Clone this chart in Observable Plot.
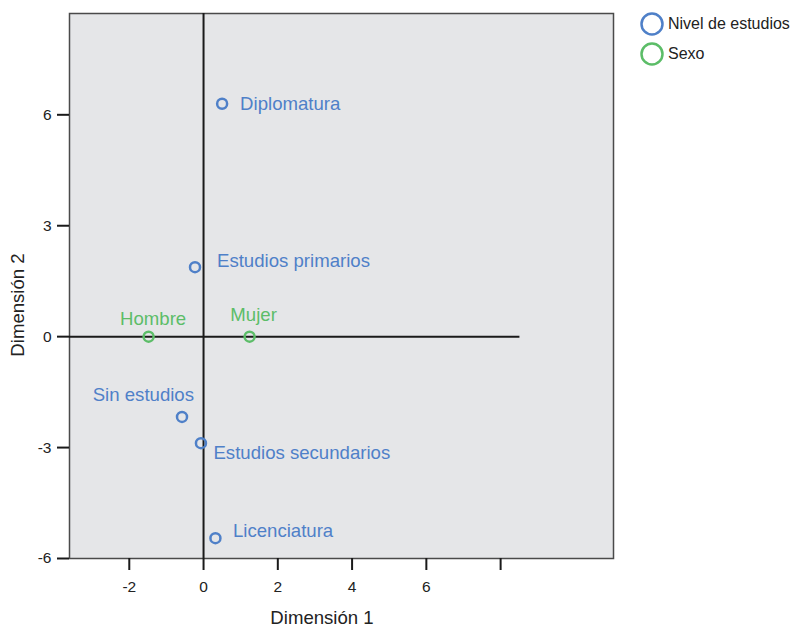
<!DOCTYPE html>
<html>
<head>
<meta charset="utf-8">
<script src="https://cdn.jsdelivr.net/npm/d3@7"></script>
<script src="https://cdn.jsdelivr.net/npm/@observablehq/plot@0.6"></script>
<style>
  html, body { margin: 0; padding: 0; background: #fff; }
  #wrap { position: relative; width: 794px; height: 628px; font-family: "Liberation Sans", Arial, sans-serif; }
  #legend { position: absolute; left: 639px; top: 9px; }
  .item { display: flex; align-items: center; height: 30px; font-size: 16px; color: #222; }
  .item svg { margin-right: 3px; }
</style>
</head>
<body>
<div id="wrap"><div id="legend"></div></div>
<script>
// ---- data ----
const names  = ["Diplomatura", "Estudios primarios", "Hombre", "Mujer", "Sin estudios", "Estudios secundarios", "Licenciatura"];
const dim1   = [0.50, -0.23, -1.48, 1.24, -0.58, -0.07, 0.32];
const dim2   = [6.30, 1.88, 0.00, 0.00, -2.17, -2.88, -5.45];
const groups = ["Nivel de estudios", "Nivel de estudios", "Sexo", "Sexo", "Nivel de estudios", "Nivel de estudios", "Nivel de estudios"];
const seriesNames = ["Nivel de estudios", "Sexo"];
const xTicks = [-2, 0, 2, 4, 6, 8];
const xTickLabels = ["-2", "0", "2", "4", "6", ""];
const yTicks = [-6, -3, 0, 3, 6];
const yTickLabels = ["-6", "-3", "0", "3", "6"];
const xDomain = [-3.61, 11.04];
const yDomain = [-6, 8.74];
const hLineEnd = 8.52;

const colors = ["#4f80c8", "#5cbd68"];
const data = names.map((n, i) => ({name: n, x: dim1[i], y: dim2[i], group: groups[i]}));
const color = d3.scaleOrdinal(seriesNames, colors);

const font = "Liberation Sans, Arial, sans-serif";

const labelMark = (list, opts) => Plot.text(data.filter(d => list.includes(d.name)), {
  x: "x", y: "y", text: "name", fill: d => color(d.group), fontSize: 18.6, ...opts
});

const chart = Plot.plot({
  width: 794,
  height: 628,
  marginLeft: 69,
  marginTop: 13,
  marginRight: 181,
  marginBottom: 70,
  style: {fontFamily: font, background: "transparent"},
  x: {domain: xDomain},
  y: {domain: yDomain},
  marks: [
    Plot.frame({fill: "#e5e6e8", stroke: "#4a4a4a", strokeWidth: 1.5}),
    Plot.ruleX([0], {stroke: "#1a1a1a", strokeWidth: 2}),
    Plot.ruleY([0], {x1: xDomain[0], x2: hLineEnd, stroke: "#1a1a1a", strokeWidth: 2}),
    Plot.axisX({ticks: xTicks, tickFormat: d => xTickLabels[xTicks.indexOf(d)], tickSize: 12, tickPadding: 10,
      strokeWidth: 2, stroke: "#1a1a1a", fontSize: 15.5, fill: "#222", label: null}),
    Plot.axisY({ticks: yTicks, tickFormat: d => yTickLabels[yTicks.indexOf(d)], tickSize: 12, tickPadding: 6,
      strokeWidth: 2, stroke: "#1a1a1a", fontSize: 15.5, fill: "#222", label: null}),
    Plot.dot(data, {x: "x", y: "y", r: 5, stroke: d => color(d.group), strokeWidth: 2.5, fill: "none"}),
    labelMark(["Diplomatura"], {textAnchor: "start", dx: 18, dy: 0}),
    labelMark(["Estudios primarios"], {textAnchor: "start", dx: 22, dy: -6}),
    labelMark(["Licenciatura"], {textAnchor: "start", dx: 17.5, dy: -7.5}),
    labelMark(["Estudios secundarios"], {textAnchor: "start", dx: 12.5, dy: 10}),
    labelMark(["Hombre"], {textAnchor: "middle", dx: 4.5, dy: -17.5}),
    labelMark(["Mujer"], {textAnchor: "middle", dx: 4, dy: -21.5}),
    labelMark(["Sin estudios"], {textAnchor: "end", dx: 12, dy: -21.5}),
    Plot.text(["Dimensión 1"], {frameAnchor: "bottom", text: d => d, textAnchor: "middle", lineAnchor: "middle",
      dx: -19.5, dy: 59.5, fontSize: 18.6, fill: "#222"}),
    Plot.text(["Dimensión 2"], {frameAnchor: "left", text: d => d, textAnchor: "middle", lineAnchor: "middle",
      rotate: -90, dx: -51, dy: 19, fontSize: 18.6, fill: "#222"})
  ]
});
document.getElementById("wrap").prepend(chart);

const legend = document.getElementById("legend");
seriesNames.forEach((s, i) => {
  const item = document.createElement("div");
  item.className = "item";
  item.innerHTML = `<svg width="26" height="26"><circle cx="13" cy="13" r="10.5" fill="none" stroke="${colors[i]}" stroke-width="2.5"/></svg><span>${s}</span>`;
  legend.appendChild(item);
});
</script>
</body>
</html>
